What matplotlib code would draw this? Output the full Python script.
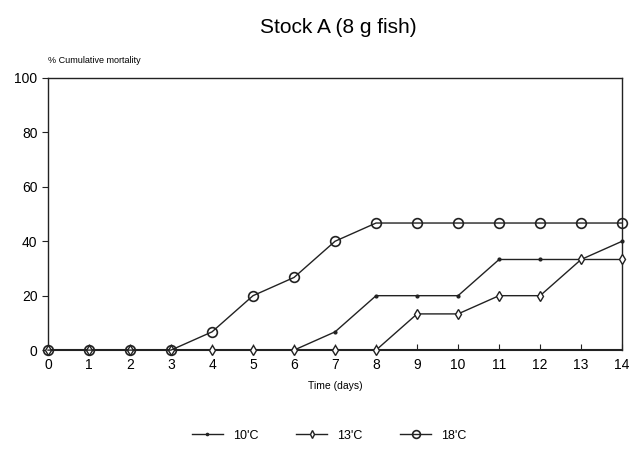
import matplotlib
matplotlib.use("Agg")
import matplotlib.pyplot as plt

plt.rcParams['font.family'] = ['Liberation Sans', 'DejaVu Sans']

days = list(range(15))
t10 = [0, 0, 0, 0, 0, 0, 0, 6.7, 20, 20, 20, 33.3, 33.3, 33.3, 40]
t13 = [0, 0, 0, 0, 0, 0, 0, 0, 0, 13.3, 13.3, 20, 20, 33.3, 33.3]
t18 = [0, 0, 0, 0, 6.7, 20, 26.7, 40, 46.7, 46.7, 46.7, 46.7, 46.7, 46.7, 46.7]
labels = ["10'C", "13'C", "18'C"]

fig = plt.figure(figsize=(6.33, 4.5), dpi=100)
ax = fig.add_axes([0.0758, 0.222, 0.907, 0.6047])

c = '#222222'
l1, = ax.plot(days, t10, color=c, lw=1.0, marker='.', ms=4, clip_on=False, zorder=3)
l2, = ax.plot(days, t13, color=c, lw=1.0, marker='d', ms=5, mfc='white', mec=c, mew=1.0, clip_on=False, zorder=3)
l3, = ax.plot(days, t18, color=c, lw=1.0, marker='o', ms=7, mfc='none', mec=c, mew=1.2, clip_on=False, zorder=3)

ax.set_xlim(0, 14)
ax.set_ylim(0, 100)
ax.set_xticks(days)
ax.set_yticks([0, 20, 40, 60, 80, 100])
ax.tick_params(axis='x', direction='in', length=4, labelsize=10, pad=6, color=c)
ax.tick_params(axis='y', direction='out', length=4, labelsize=10, color=c)
for s in ax.spines.values():
    s.set_color(c)
    s.set_linewidth(1.0)
ax.spines['bottom'].set_linewidth(1.5)

ax.set_xlabel('Time (days)', fontsize=7.5, labelpad=6)
fig.text(0.0758, 0.855, '% Cumulative mortality', fontsize=6.5, ha='left', va='bottom')
fig.suptitle('Stock A (8 g fish)', fontsize=15, x=0.535, y=0.96)

fig.legend([l1, l2, l3], labels, loc='center', bbox_to_anchor=(0.52, 0.032), ncol=3,
           frameon=False, fontsize=9, handlelength=2.5, columnspacing=3, markerscale=0.8)

fig.savefig('out.png', dpi=100, facecolor='white')
